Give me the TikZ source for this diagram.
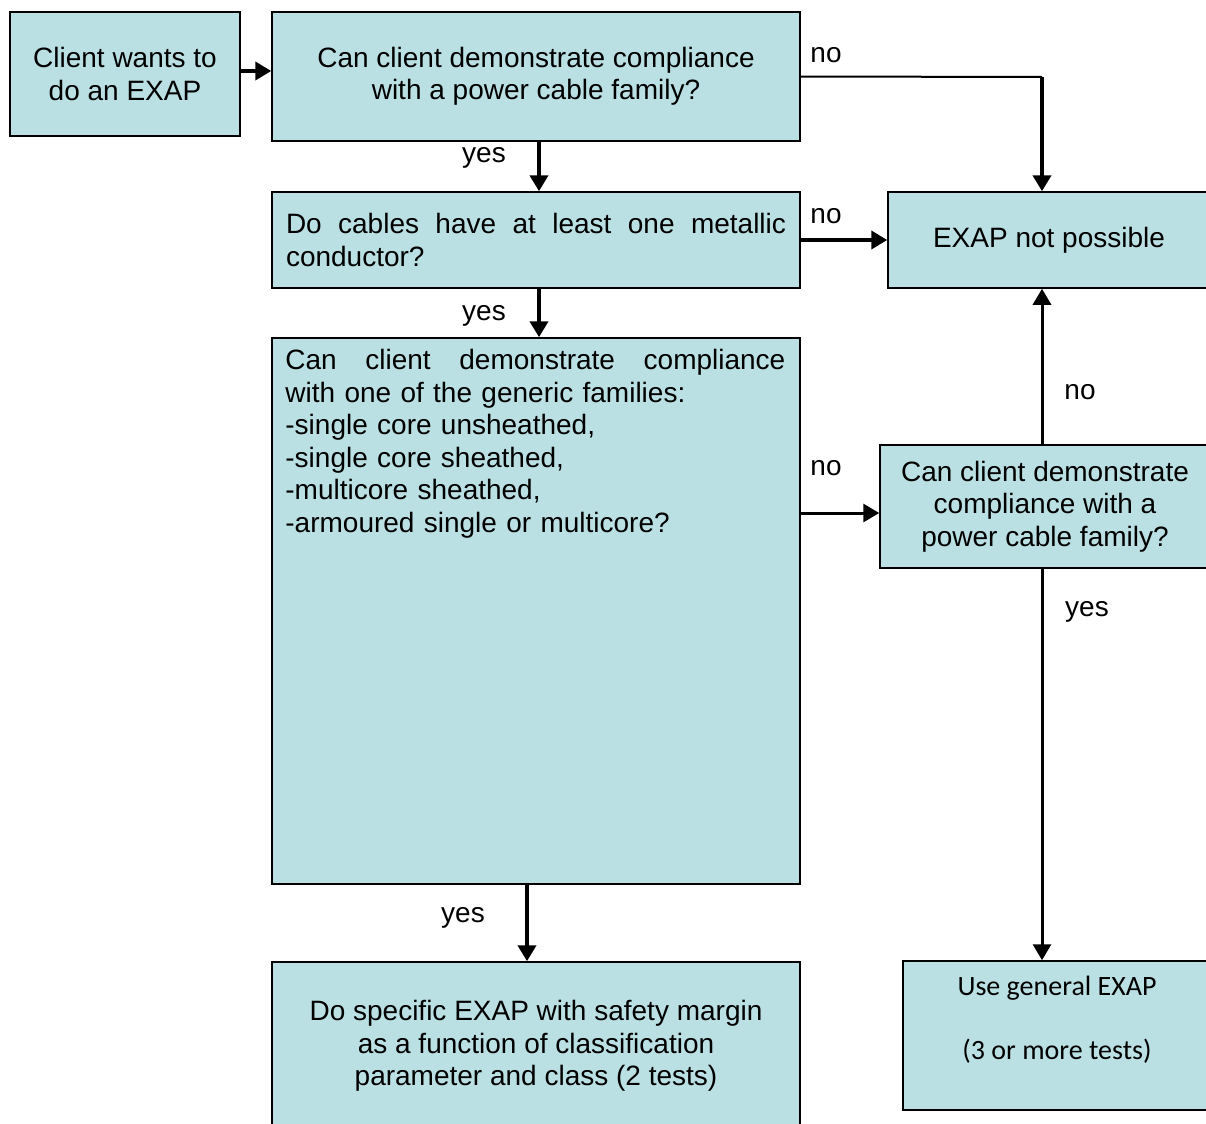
\documentclass[tikz,border=0pt]{standalone}
\usepackage{fontspec}
\setmainfont{Liberation Sans}
\newfontfamily\calfont{Carlito}
\usetikzlibrary{arrows.meta}
\definecolor{boxblue}{RGB}{187,224,227}
\tikzset{
  box/.style={draw=black,line width=0.75pt,fill=boxblue,inner sep=0pt},
  flow/.style={line width=2pt,-{Triangle[length=8pt,width=9pt]}},
  lbl/.style={inner sep=0pt}
}

\begin{document}
\begin{tikzpicture}[x=0.5pt,y=-0.5pt,font=\fontsize{14}{16.25}\selectfont]
  \useasboundingbox (0,0) rectangle (1206,1124);
  \node[box,minimum width=115pt,minimum height=62pt,align=center] (start) at (125,74) {Client wants to\\do an EXAP};
  \node[box,minimum width=264pt,minimum height=64.5pt,align=center] (q1) at (536,76.5) {Can client demonstrate compliance\\with a power cable family?};
  \node[box,minimum width=264pt,minimum height=48pt,text width=250pt,align=left] (q2) at (536,240)
    {Do\hfill cables\hfill have\hfill at\hfill least\hfill one\hfill metallic\\conductor?};
  \node[box,minimum width=161pt,minimum height=48pt] (notposs) at (1049,240) {EXAP not possible};
  \node[box,minimum width=264pt,minimum height=273pt] (q3) at (536,611) {};
  \node[lbl,anchor=north west,text width=250pt,align=left] (q3txt) at (285,349)
    {Can\hfill client\hfill demonstrate\hfill compliance\\
     with one of the generic families:\\
     -single core unsheathed,\\
     -single core sheathed,\\
     -multicore sheathed,\\
     -armoured single or multicore?};
  \node[box,minimum width=165pt,minimum height=61.5pt,align=center] (q4) at (1045,506.5) {Can client demonstrate\\compliance with a\\power cable family?};
  \node[box,minimum width=264pt,minimum height=84pt,align=center] (spec) at (536,1046)
    {Do specific EXAP with safety margin\\as a function of classification\\parameter and class (2 tests)};
  \node[box,minimum width=154.5pt,minimum height=74.5pt] (general) at (1057.5,1035.5) {};
  \node[lbl,anchor=north,align=center,font=\calfont\fontsize{14}{16}\selectfont] (gentxt) at (1057,976)
    {Use general EXAP\\ \\(3 or more tests)};

  \coordinate (turn) at (1042,77);
  \coordinate (q4in) at ([yshift=-3.25pt]q4.west);
  \draw[flow] ([yshift=1.5pt]start.east) -- ([yshift=1.5pt]start.east -| q1.west);
  \draw[flow] ([xshift=1.5pt]q1.south) -- ([xshift=1.5pt]q2.north);
  \draw[line width=1pt] (q1.east) -- (turn);
  \draw[flow] (turn) -- (turn |- notposs.north);
  \draw[flow] (q2.east) -- (notposs.west);
  \draw[flow] ([xshift=1.5pt]q2.south) -- ([xshift=1.5pt]q3.north);
  \draw[flow,line width=1.5pt] (q3.east |- q4in) -- (q4in);
  \draw[flow,line width=1.5pt] (q4.north -| turn) -- (notposs.south -| turn);
  \draw[flow,line width=1.5pt] (q4.south -| turn) -- (general.north -| turn);
  \draw[flow] ([xshift=-4.5pt]q3.south) -- ([xshift=-4.5pt]spec.north);

  \node[lbl] (no1) at (826,55) {no};
  \node[lbl] (yes1) at (484,158) {yes};
  \node[lbl] (no2) at (826,216) {no};
  \node[lbl] (yes2) at (484,316) {yes};
  \node[lbl] (no3) at (826,468) {no};
  \node[lbl] (no4) at (1080,392) {no};
  \node[lbl] (yes3) at (1087,612) {yes};
  \node[lbl] (yes4) at (463,918) {yes};
\end{tikzpicture}
\end{document}
